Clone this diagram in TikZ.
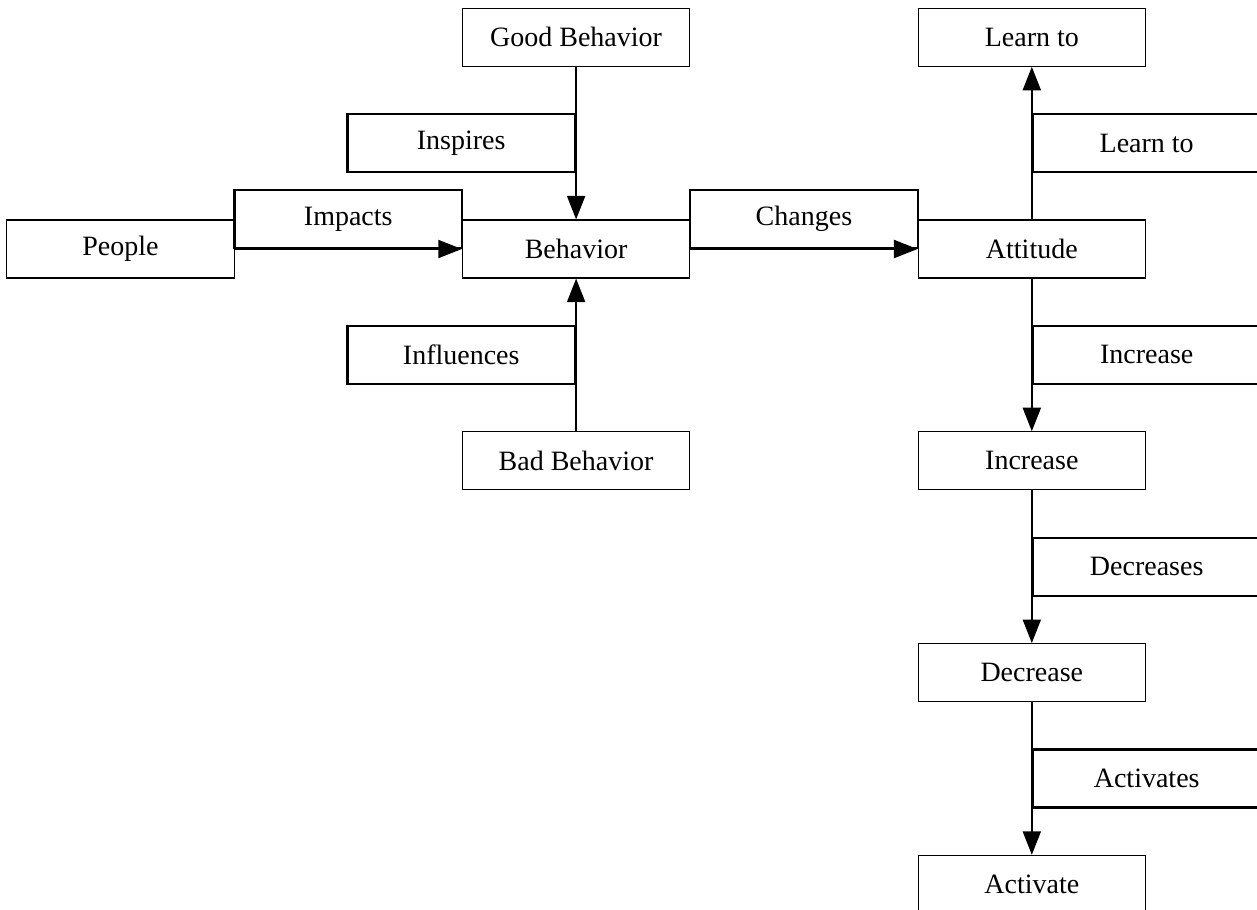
\documentclass[tikz,border=0pt]{standalone}
\usepackage{fontspec}
\setmainfont{Liberation Serif}
\usetikzlibrary{arrows.meta,positioning}

\begin{document}
\begin{tikzpicture}[->,>={Triangle[length=8.4pt,width=6.4pt]}, node distance=1.916cm and 2.85cm, auto,
thick,
    box/.style={draw, thin, minimum width=2.855cm, minimum height=0.728cm, inner sep=0pt},
    lbl/.style={box, thick}
    ]
\useasboundingbox (-1.511,3.125) rectangle (14.264,-8.283);
\node[box]                      (people)   {People};
\node[box, right=of people]     (behavior) {Behavior};
\node[box, right=of behavior]   (attitude) {Attitude};
\node[box, above=of behavior]   (good)     {Good Behavior};
\node[box, below=of behavior]   (bad)      {Bad Behavior};
\node[box, above=of attitude]   (learn)    {Learn to};
\node[box, below=of attitude]   (increase) {Increase};
\node[box, below=of increase]   (decrease) {Decrease};
\node[box, below=of decrease]   (activate) {Activate};
\path
(people)   edge node[lbl]       {Impacts}    (behavior)
(behavior) edge node[lbl]       {Changes}    (attitude)
(good)     edge node[lbl, swap] {Inspires}   (behavior)
(bad)      edge node[lbl]       {Influences} (behavior)
(attitude) edge node[lbl, swap] {Learn to}   (learn)
(attitude) edge node[lbl]       {Increase}   (increase)
(increase) edge node[lbl]       {Decreases}  (decrease)
(decrease) edge node[lbl]       {Activates}  (activate)
;
\end{tikzpicture}
\end{document}
